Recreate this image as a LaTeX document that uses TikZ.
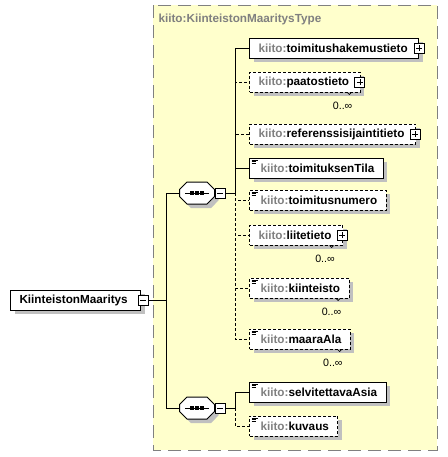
\documentclass[tikz,border=0pt]{standalone}
\usepackage{fontspec}
\setmainfont{Liberation Sans}
\usetikzlibrary{shadows}

\definecolor{typefill}{RGB}{255,255,204}
\definecolor{typeline}{RGB}{128,128,128}
\definecolor{prefixgray}{RGB}{128,128,128}
\definecolor{shadowgray}{RGB}{192,192,192}

\newcommand{\kiito}[1]{\textcolor{prefixgray}{kiito:}#1}
% octagon of a sequence compositor, drawn round node #1
\newcommand{\seqbox}[1]{%
  \path[draw, fill=white, drop shadow={shadow xshift=3pt, shadow yshift=-3pt, fill=shadowgray, opacity=1}]
    ([xshift=5.6pt]#1.north west) -- ([xshift=-5.6pt]#1.north east)
    -- ([yshift=2.6pt]#1.east) -- ([yshift=-2.6pt]#1.east)
    -- ([xshift=-5.6pt]#1.south east) -- ([xshift=5.6pt]#1.south west)
    -- ([yshift=-2.6pt]#1.west) -- ([yshift=2.6pt]#1.west) -- cycle;
  \draw[line width=0.6pt] ([xshift=-9pt]#1.center) -- ([xshift=9pt]#1.center);
  \foreach \d in {-3.75pt,0pt,3.75pt}
    \fill[black] ([xshift=\d]#1.center) +(-1.2pt,-1.2pt) rectangle +(1.2pt,1.2pt);}

\begin{document}
\begin{tikzpicture}[x=0.75pt, y=-0.75pt, line width=0.75pt,
  every node/.style={font=\fontsize{8.8}{10.5}\selectfont\bfseries},
  box/.style={draw, fill=white, minimum height=15pt, inner ysep=0pt, inner xsep=6.75pt,
    drop shadow={shadow xshift=3pt, shadow yshift=-3pt, fill=shadowgray, opacity=1}},
  elem/.style={box, anchor=west},
  opt/.style={dash pattern=on 2.25pt off 1.5pt},
  kids/.style={execute at end node={\hspace{1.5pt}}},
  simple/.style={execute at begin node={\hspace{1.5pt}},
    path picture={
      \draw[solid, line width=0.5pt]
        ([xshift=1.5pt,yshift=-1.5pt]path picture bounding box.north west) -- ++(4.5pt,0pt)
        ([xshift=1.5pt,yshift=-2.75pt]path picture bounding box.north west) -- ++(3.5pt,0pt)
        ([xshift=1.5pt,yshift=-4pt]path picture bounding box.north west) -- ++(3.5pt,0pt);}},
  pm/.style={draw, solid, fill=white, minimum size=7.5pt, inner sep=0pt},
  plusbox/.style={pm, path picture={
      \draw[line width=0.6pt]
        ([xshift=-2.25pt]path picture bounding box.center) -- ([xshift=2.25pt]path picture bounding box.center)
        ([yshift=-2.25pt]path picture bounding box.center) -- ([yshift=2.25pt]path picture bounding box.center);}},
  minusbox/.style={pm, path picture={
      \draw[line width=0.6pt]
        ([xshift=-2.25pt]path picture bounding box.center) -- ([xshift=2.25pt]path picture bounding box.center);}},
  seq/.style={minimum width=25.5pt, minimum height=15.75pt, inner sep=0pt},
  mult/.style={font=\fontsize{8}{9.5}\selectfont, inner sep=0pt}
  ]
  \useasboundingbox (0,0) rectangle (448,457);

  % complex type frame
  \draw[typeline, fill=typefill, dash pattern=on 10pt off 5pt] (153,5) rectangle (437,450);
  \node[anchor=west, text=prefixgray, inner sep=0pt] (typename) at (158,19) {kiito:KiinteistonMaaritysType};

  % root element
  \node[box, anchor=west, execute at end node={\hspace{3pt}}] (root) at (10,300) {KiinteistonMaaritys};
  \node[minusbox] (root-pm) at ([xshift=1.5pt]root.east) {};

  % sequences
  \node[seq] (seq1) at (197,193) {};
  \seqbox{seq1}
  \node[minusbox, anchor=west] (seq1-pm) at (seq1.east) {};
  \node[seq] (seq2) at (197,408) {};
  \seqbox{seq2}
  \node[minusbox, anchor=west] (seq2-pm) at (seq2.east) {};

  \coordinate (j0) at (166,300);
  \coordinate (j1) at (235,193);
  \coordinate (j2) at (235,408);

  % first sequence
  \node[elem, kids] (e1) at (249,48) {\kiito{toimitushakemustieto}};
  \node[plusbox] (e1-p) at (e1.east) {};
  \node[elem, kids, opt] (e2) at (249,82) {\kiito{paatostieto}};
  \node[plusbox] (e2-p) at ([xshift=-0.5pt]e2.east) {};
  \node[elem, kids, opt] (e3) at (249,134) {\kiito{referenssisijaintitieto}};
  \node[plusbox] (e3-p) at ([xshift=-0.5pt]e3.east) {};
  \node[elem, simple] (e4) at (249,168) {\kiito{toimituksenTila}};
  \node[elem, simple, opt] (e5) at (249,200) {\kiito{toimitusnumero}};
  \node[elem, kids, opt] (e6) at (249,235) {\kiito{liitetieto}};
  \node[plusbox] (e6-p) at ([xshift=-0.5pt]e6.east) {};
  \node[elem, simple, opt] (e7) at (249,288) {\kiito{kiinteisto}};
  \node[elem, simple, opt] (e8) at (249,339) {\kiito{maaraAla}};

  % second sequence
  \node[elem, simple] (e9) at (249,392) {\kiito{selvitettavaAsia}};
  \node[elem, simple, opt] (e10) at (249,426) {\kiito{kuvaus}};

  % occurrences
  \foreach \n in {e2,e6,e7,e8} {
    \draw[line width=0.5pt] ([xshift=-10pt]\n.south east) -- ++(1.5pt,-1.5pt) -- ++(1.5pt,1.5pt);
    \node[mult] (\n-m) at ([xshift=-13.5pt,yshift=-9.75pt]\n.south east) {0..∞};
  }

  % connectors
  \draw (root-pm.east) -- (j0);
  \draw (j0) |- (seq1.west);
  \draw (j0) |- (seq2.west);
  \draw (seq1-pm.east) -- (j1);
  \draw (seq2-pm.east) -- (j2);
  \foreach \n in {e2,e3,e5,e6,e7,e8}
    \draw[opt] (j1) |- (\n.west);
  \foreach \n in {e1,e4}
    \draw (j1) |- (\n.west);
  \draw[opt] (j2) |- (e10.west);
  \draw (j2) |- (e9.west);
\end{tikzpicture}
\end{document}
